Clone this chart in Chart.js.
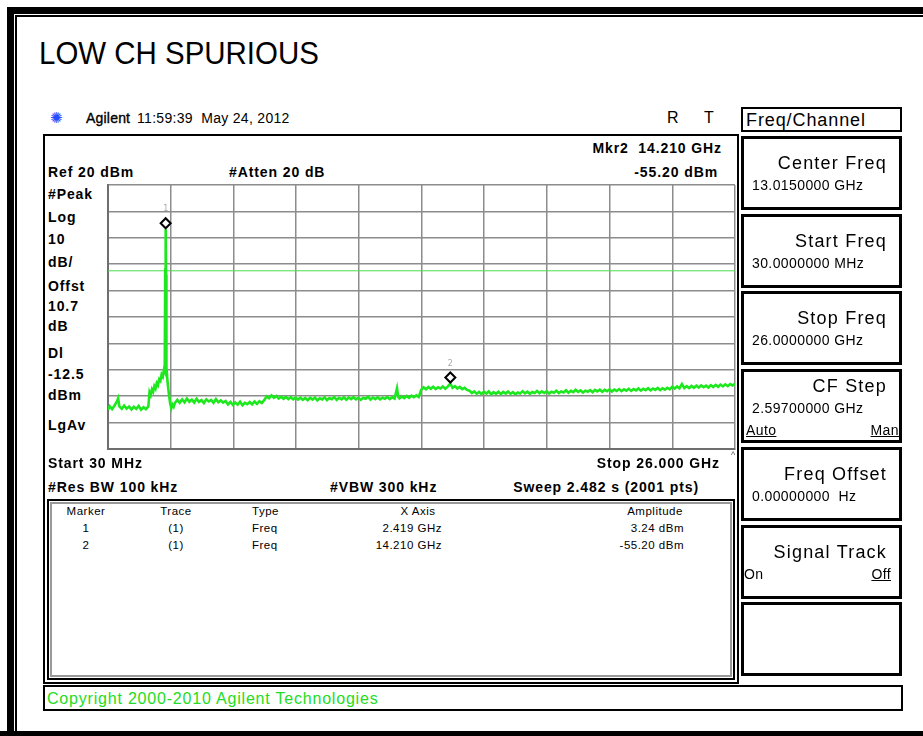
<!DOCTYPE html>
<html><head><meta charset="utf-8">
<script src="https://cdn.jsdelivr.net/npm/chart.js@4.4.1/dist/chart.umd.min.js"></script>
<style>
html,body{margin:0;padding:0;background:#fff;}
body{width:923px;height:736px;position:relative;overflow:hidden;font-family:"Liberation Sans",Arial,sans-serif;color:#000;}
.a{position:absolute;white-space:pre;line-height:1;transform:translateY(-50%);}
.b{font-weight:bold;font-size:14px;letter-spacing:0.9px;}
.r{transform:translate(-100%,-50%);}
.c{transform:translate(-50%,-50%);}
.box{position:absolute;box-sizing:border-box;}
.sk{position:absolute;box-sizing:border-box;left:741px;width:161px;border:3px solid #000;}
.skl{position:absolute;right:12px;font-size:18px;letter-spacing:1.2px;white-space:pre;line-height:1;}
.skv{position:absolute;left:8px;font-size:14px;letter-spacing:0.4px;white-space:pre;line-height:1;}
.tb{font-size:11.5px;letter-spacing:0.5px;}
</style></head>
<body>
<!-- outer frame -->
<div class="box" style="left:7px;top:7px;width:930px;height:7px;background:#000"></div>
<div class="box" style="left:7px;top:7px;width:7px;height:740px;background:#000"></div>
<div class="box" style="left:15px;top:15px;width:930px;height:2px;background:#000"></div>
<div class="box" style="left:15px;top:15px;width:2px;height:730px;background:#000"></div>
<div class="box" style="left:0px;top:731px;width:923px;height:6px;background:#000"></div>

<div class="a" style="left:39px;top:53px;font-size:31px;transform-origin:0 50%;transform:translateY(-50%) scaleX(0.95);">LOW CH SPURIOUS</div>

<div class="a" style="left:50px;top:118px;font-size:15px;color:#2a4cff;font-family:'DejaVu Sans'">✺</div>
<div class="a" style="left:86px;top:118px;font-size:14px;-webkit-text-stroke:0.35px #000;letter-spacing:0.2px">Agilent</div>
<div class="a" style="left:137px;top:118px;font-size:14px;letter-spacing:0.3px">11:59:39  May 24, 2012</div>
<div class="a" style="left:667px;top:118px;font-size:16px;">R</div>
<div class="a" style="left:704px;top:118px;font-size:16px;">T</div>

<!-- main display frame -->
<div class="box" style="left:43px;top:134px;width:696px;height:550px;border:2px solid #000"></div>

<div class="a b" style="left:48px;top:172px">Ref 20 dBm</div>
<div class="a b" style="left:229px;top:172px">#Atten 20 dB</div>
<div class="a b r" style="left:722px;top:148px">Mkr2  14.210 GHz</div>
<div class="a b r" style="left:718px;top:172px">-55.20 dBm</div>

<div class="a b" style="left:48px;top:194px">#Peak</div>
<div class="a b" style="left:48px;top:217px">Log</div>
<div class="a b" style="left:48px;top:239px">10</div>
<div class="a b" style="left:48px;top:262px">dB/</div>
<div class="a b" style="left:48px;top:286px">Offst</div>
<div class="a b" style="left:48px;top:306px">10.7</div>
<div class="a b" style="left:48px;top:326px">dB</div>
<div class="a b" style="left:48px;top:353px">Dl</div>
<div class="a b" style="left:48px;top:374px">-12.5</div>
<div class="a b" style="left:48px;top:395px">dBm</div>
<div class="a b" style="left:48px;top:425px">LgAv</div>

<div style="position:absolute;left:100px;top:177px;width:643px;height:280px;"><canvas id="c"></canvas></div>

<div class="a b" style="left:48px;top:463px">Start 30 MHz</div>
<div class="a b r" style="left:720px;top:463px">Stop 26.000 GHz</div>
<div class="a" style="left:731px;top:455px;font-size:9px;color:#555">^</div>
<div class="a b" style="left:48px;top:487px">#Res BW 100 kHz</div>
<div class="a b" style="left:330px;top:487px">#VBW 300 kHz</div>
<div class="a b r" style="left:699px;top:487px">Sweep 2.482 s (2001 pts)</div>

<!-- marker table -->
<div class="box" style="left:47px;top:499px;width:688px;height:181px;border:2px solid #000"></div>
<div class="box" style="left:50px;top:502px;width:682px;height:175px;border:2px solid #999"></div>
<div id="tbl"></div>

<!-- copyright -->
<div class="box" style="left:43px;top:685px;width:860px;height:26px;border:2px solid #000"></div>
<div class="a" style="left:47px;top:699px;font-size:16px;color:#22dd22;letter-spacing:0.8px">Copyright 2000-2010 Agilent Technologies</div>

<!-- softkeys -->
<div class="box" style="left:741px;top:107px;width:161px;height:25px;border:2px solid #000"></div>
<div class="a" style="left:746px;top:120px;font-size:18px;letter-spacing:0.9px">Freq/Channel</div>
<div id="keys"></div>

<script>
const traceFreqGHz = [
0.03,0.1,0.2,0.3,0.4,0.45,0.5,0.6,0.7,0.8,0.9,1.0,1.1,1.2,1.3,1.4,1.5,1.6,1.7,
1.75,1.8,1.85,1.9,1.95,2.0,2.05,2.1,2.15,2.2,2.25,2.3,2.35,2.38,2.40,2.419,2.435,2.45,2.5,2.55,2.6,2.65,2.7,2.75,2.8,2.9,3.0,
3.1,3.2,3.3,3.4,3.5,3.6,3.7,3.8,3.9,4.0,4.1,4.2,4.3,4.4,4.5,4.6,4.7,4.8,4.9,
5.0,5.1,5.2,5.3,5.4,5.5,5.6,5.7,5.8,5.9,6.0,6.1,6.2,6.3,6.4,6.5,
6.6,6.7,6.8,6.9,7.0,7.1,7.2,7.3,7.4,7.5,7.6,7.7,7.8,7.9,8.0,8.1,8.2,8.3,8.4,8.5,8.6,8.7,8.8,8.9,9.0,
9.1,9.2,9.3,9.4,9.5,9.6,9.7,9.8,9.9,10.0,10.1,10.2,10.3,10.4,10.5,10.6,10.7,10.8,10.9,11.0,11.1,11.2,11.3,11.4,11.5,11.6,11.7,11.8,11.9,
12.0,12.05,12.1,12.2,12.3,12.4,12.5,12.6,12.7,12.8,12.9,
13.0,13.1,13.2,13.3,13.4,13.5,13.6,13.7,13.8,13.9,14.0,14.1,14.21,14.3,14.4,14.5,14.6,14.7,14.8,14.9,15.0,
15.1,15.2,15.3,15.4,15.5,15.6,15.7,15.8,15.9,16.0,16.1,16.2,16.3,16.4,16.5,16.6,16.7,16.8,16.9,17.0,17.1,17.2,17.3,17.4,17.5,
17.6,17.7,17.8,17.9,18.0,18.1,18.2,18.3,18.4,18.5,18.6,18.7,18.8,18.9,19.0,19.1,19.2,19.3,19.4,19.5,19.6,19.7,19.8,19.9,20.0,20.1,20.2,20.3,
20.4,20.5,20.6,20.7,20.8,20.9,21.0,21.1,21.2,21.3,21.4,21.5,21.6,21.7,21.8,21.9,22.0,22.1,22.2,22.3,22.4,22.5,22.6,22.7,22.8,22.9,23.0,23.1,23.2,23.3,
23.4,23.5,23.6,23.7,23.8,23.9,24.0,24.1,24.2,24.3,24.4,24.5,24.6,24.7,24.8,24.9,25.0,25.1,25.2,25.3,25.4,25.5,25.6,25.7,25.8,25.9,26.0];
const traceLevelDbm = [
-65.2,-63.8,-64.9,-63.5,-62.0,-60.8,-63.9,-64.8,-63.6,-64.7,-63.9,-65.0,-64.0,-64.8,-63.7,-65.1,-64.2,-64.9,-63.9,
-58.5,-59.6,-57.4,-58.3,-56.2,-57.1,-55.0,-55.8,-53.6,-54.2,-51.8,-52.6,-49.8,-50.5,-12,3.24,-14,-49,-55,-59,-62.5,-64.6,-63.2,-64.0,-62.6,-61.4,-62.5,
-61.2,-62.3,-60.9,-62.1,-61.3,-62.4,-61.0,-62.2,-61.5,-62.6,-61.2,-62.0,-61.4,-62.5,-61.1,-62.3,-61.6,-62.4,-61.8,
-63.1,-62.2,-63.3,-62.4,-63.2,-62.1,-63.4,-62.5,-63.0,-62.2,-63.1,-62.0,-62.9,-61.9,-62.6,-61.5,
-60.1,-60.8,-59.7,-60.6,-59.9,-60.9,-60.2,-61.0,-60.3,-61.1,-60.4,-61.2,-60.5,-61.3,-60.6,-61.4,-60.7,-61.5,-60.6,-61.3,-60.5,-61.6,-60.8,-61.2,-60.4,
-61.5,-60.7,-61.1,-60.3,-61.4,-60.6,-61.2,-60.4,-61.3,-60.5,-61.1,-60.3,-61.2,-60.6,-61.4,-60.7,-61.0,-60.2,-61.3,-60.5,-61.1,-60.4,-61.2,-60.6,-61.0,-60.3,-61.1,-60.4,-60.9,
-57.0,-60.2,-60.8,-60.1,-60.7,-59.9,-60.6,-59.8,-60.4,-59.7,-60.3,
-57.6,-56.6,-57.4,-56.5,-57.2,-56.4,-57.3,-56.6,-57.1,-56.3,-57.2,-56.4,-55.2,-56.8,-56.2,-57.1,-56.5,-57.3,-56.8,-57.6,-57.9,
-58.8,-58.2,-59.1,-58.4,-59.2,-58.3,-59.0,-58.2,-59.3,-58.5,-59.1,-58.3,-59.2,-58.4,-59.0,-58.2,-59.1,-58.5,-59.3,-58.6,-59.0,-58.1,-58.9,-58.3,-59.1,
-58.4,-58.8,-58.0,-58.9,-58.2,-58.8,-58.1,-59.0,-58.3,-58.7,-57.9,-58.8,-58.2,-58.6,-57.8,-58.7,-58.0,-58.5,-57.6,-58.4,-57.8,-58.6,-57.9,-58.3,-57.7,-58.5,-57.6,-58.2,
-57.5,-58.3,-57.6,-58.1,-57.4,-58.2,-57.5,-58.0,-57.3,-58.1,-57.4,-57.9,-57.2,-58.0,-57.3,-57.8,-57.1,-57.9,-57.2,-57.7,-57.0,-57.8,-57.1,-57.6,-56.9,-57.7,-57.0,-57.5,-56.8,-57.4,
-56.4,-57.1,-56.3,-57.0,-55.4,-56.9,-56.2,-56.9,-56.1,-56.8,-56.0,-56.7,-55.9,-56.6,-56.0,-56.7,-55.8,-56.5,-55.7,-56.4,-55.6,-56.3,-55.5,-56.2,-55.4,-55.9,-55.3];
const gridFreqGHz = [0.03,2.627,5.224,7.821,10.418,13.015,15.612,18.209,20.806,23.403,26.0];
const refLevelDbm = 20, bottomLevelDbm = -80, dbPerDiv = 10;
const displayLineDbm = -12.5;
const markerIds = ['1','2'];
const markerTrace = ['(1)','(1)'];
const markerType = ['Freq','Freq'];
const markerFreqGHz = [2.419, 14.210];
const markerLevelDbm = [3.24, -55.20];
const markerXText = ['2.419 GHz','14.210 GHz'];
const markerAmpText = ['3.24 dBm','-55.20 dBm'];
const softKeys = [
 {label:'Center Freq', value:'13.0150000 GHz', ly:15, vy:39},
 {label:'Start Freq', value:'30.0000000 MHz', ly:15, vy:39},
 {label:'Stop Freq', value:'26.0000000 GHz', ly:15, vy:39},
 {label:'CF Step', value:'2.59700000 GHz', sub:['Auto','Man'], ly:5, vy:29, sy:51},
 {label:'Freq Offset', value:'0.00000000  Hz', ly:15, vy:39},
 {label:'Signal Track', sub2:['On','Off'], ly:15, sy:39},
 {label:''}
];

// ---- marker table ----
(function(){
  const t=document.getElementById('tbl');
  let h='';
  const hdr=[['Marker',86,'c'],['Trace',176,'c'],['Type',252,''],['X Axis',418,'c'],['Amplitude',655,'c']];
  hdr.forEach(([s,x,m])=>{h+=`<div class="a tb ${m}" style="left:${x}px;top:512px">${s}</div>`;});
  markerIds.forEach((id,i)=>{
    const y=529+i*17;
    h+=`<div class="a tb c" style="left:86px;top:${y}px">${id}</div>`;
    h+=`<div class="a tb c" style="left:176px;top:${y}px">${markerTrace[i]}</div>`;
    h+=`<div class="a tb" style="left:252px;top:${y}px">${markerType[i]}</div>`;
    h+=`<div class="a tb r" style="left:442px;top:${y}px">${markerXText[i]}</div>`;
    h+=`<div class="a tb r" style="left:684px;top:${y}px">${markerAmpText[i]}</div>`;
  });
  t.innerHTML=h;
})();
// ---- softkeys ----
(function(){
  const k=document.getElementById('keys');
  let h='';
  softKeys.forEach((s,i)=>{
    const top=136+i*77.7;
    h+=`<div class="sk" style="top:${top}px;height:74px">`;
    if(s.label) h+=`<div class="skl" style="top:${s.ly}px">${s.label}</div>`;
    if(s.value) h+=`<div class="skv" style="top:${s.vy}px">${s.value}</div>`;
    if(s.sub){h+=`<div class="skv" style="left:2px;top:${s.sy}px;text-decoration:underline">${s.sub[0]}</div>`;
      h+=`<div class="skv" style="left:auto;right:0px;top:${s.sy}px;text-decoration:underline">${s.sub[1]}</div>`;}
    if(s.sub2){h+=`<div class="skv" style="left:0px;top:${s.sy}px">${s.sub2[0]}</div>`;
      h+=`<div class="skv" style="left:auto;right:8px;top:${s.sy}px;text-decoration:underline">${s.sub2[1]}</div>`;}
    h+='</div>';
  });
  k.innerHTML=h;
})();

// ---- chart ----
const markerPlugin={
  id:'mkr',
  afterDatasetsDraw(chart){
    const {ctx,scales:{x,y}}=chart;
    ctx.save();
    markerFreqGHz.forEach((f,i)=>{
      const px=x.getPixelForValue(f), py=y.getPixelForValue(markerLevelDbm[i])-6;
      ctx.beginPath();
      ctx.moveTo(px,py-5);ctx.lineTo(px+5,py);ctx.lineTo(px,py+5);ctx.lineTo(px-5,py);ctx.closePath();
      ctx.fillStyle='#fff';ctx.fill();
      ctx.lineWidth=2;ctx.strokeStyle='#000';ctx.stroke();
      ctx.fillStyle='#aaa';ctx.font='8px "DejaVu Sans"';ctx.textAlign='center';ctx.textBaseline='middle';
      ctx.fillText(markerIds[i],px,py-14);
    });
    ctx.restore();
  }
};
new Chart(document.getElementById('c'),{
  type:'line',
  data:{datasets:[
    {data:traceFreqGHz.map((f,i)=>({x:f,y:traceLevelDbm[i]})),borderColor:'#1de81d',borderWidth:2.6,pointRadius:0,tension:0},
    {data:[{x:traceFreqGHz[0],y:displayLineDbm},{x:traceFreqGHz[traceFreqGHz.length-1],y:displayLineDbm}],borderColor:'#4ddc4d',borderWidth:1,pointRadius:0}
  ]},
  options:{
    responsive:true,maintainAspectRatio:false,animation:false,
    layout:{padding:8},
    plugins:{legend:{display:false},tooltip:{enabled:false}},
    scales:{
      x:{type:'linear',min:traceFreqGHz[0],max:traceFreqGHz[traceFreqGHz.length-1],
        afterBuildTicks:(s)=>{s.ticks=gridFreqGHz.map(v=>({value:v}));},
        ticks:{display:false},grid:{color:'#8c8c8c',lineWidth:1.5,drawTicks:false},border:{color:'#6e6e6e',width:2}},
      y:{min:bottomLevelDbm,max:refLevelDbm,ticks:{display:false,stepSize:dbPerDiv},
        grid:{color:'#8c8c8c',lineWidth:1.5,drawTicks:false},border:{color:'#6e6e6e',width:2}}
    }
  },
  plugins:[markerPlugin]
});
</script>
</body></html>
